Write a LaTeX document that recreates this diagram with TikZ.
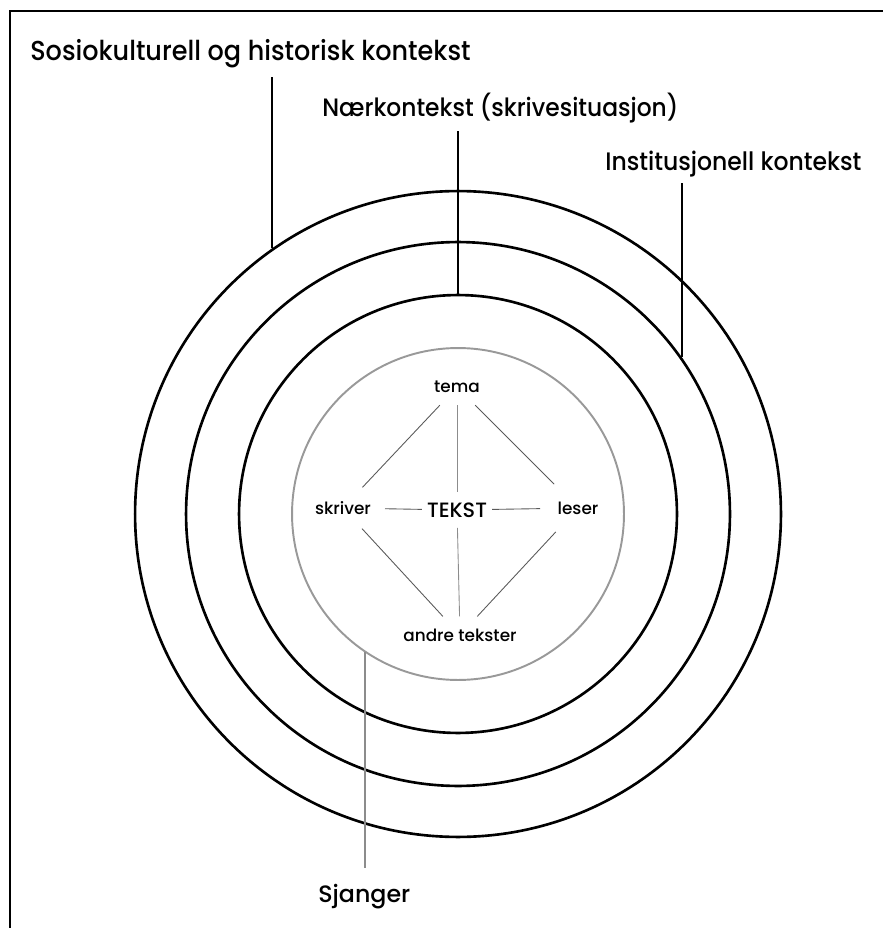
\documentclass[tikz,border=0pt]{standalone}
\usepackage{fontspec}
\setmainfont{Poppins}[UprightFont=* Medium]
\newfontfamily\ctxfont{Poppins}[UprightFont=* Medium, FakeStretch=0.93]
\tikzset{
  ring/.style={circle, draw, line width=1.5pt, inner sep=0pt},
  genrering/.style={circle, draw=black!40, line width=1.1pt, inner sep=0pt},
  ctxlabel/.style={anchor=base west, inner sep=0pt, font=\ctxfont\fontsize{14.4}{17}\selectfont},
  hub/.style={inner sep=0pt, outer sep=7pt, font=\fontsize{9.6}{11}\selectfont},
  link/.style={draw=black!65, line width=0.5pt},
  pointer/.style={draw, line width=1.3pt}
}
\begin{document}
\begin{tikzpicture}[x=0.02cm, y=-0.02cm]
  \useasboundingbox (0,0) rectangle (883,928);
  \draw[line width=1.5pt] (10,928) -- (10,11) -- (883,11);
  % the rings
  \node[ring, minimum size=12.92cm] (outer) at (458,514) {};
  \node[ring, minimum size=10.88cm] (middle) at (458,514) {};
  \node[ring, minimum size=8.76cm] (inner) at (458,514) {};
  \node[genrering, minimum size=6.64cm] (genre) at (458,514) {};
  % context labels
  \node[ctxlabel, font=\ctxfont\fontsize{15.6}{18}\selectfont] (sosio) at (30,61) {Sosiokulturell og historisk kontekst};
  \node[ctxlabel, font=\ctxfont\fontsize{14.3}{17}\selectfont] (naer) at (322,117) {Nærkontekst (skrivesituasjon)};
  \node[ctxlabel] (inst) at (605,171) {Institusjonell kontekst};
  \node[anchor=base west, inner sep=0pt, font=\fontsize{13.5}{16}\selectfont] (sjanger) at (318,902) {Sjanger};
  \coordinate (sosio-top) at (273,77);
  \coordinate (naer-top) at (458,131);
  \coordinate (inst-top) at (681,183);
  \coordinate (sjanger-end) at (366,868);
  \draw[pointer] (outer.125) -- (outer.125 |- sosio-top);
  \draw[pointer] (inner.90) -- (inner.90 |- naer-top);
  \draw[pointer] (middle.35) -- (middle.35 |- inst-top);
  \draw[pointer, draw=black!45] (genre.236) -- (genre.236 |- sjanger-end);
  % the text and its relations
  \node[hub] (tema) at (457,387) {tema};
  \node[hub, outer sep=8pt] (skriver) at (343,508) {skriver};
  \node[hub, outer xsep=3pt, outer ysep=6pt, font=\fontsize{11.8}{13}\selectfont] (tekst) at (457,510) {TEKST};
  \node[hub, outer sep=10pt] (leser) at (578,508) {leser};
  \node[hub] (andre) at (460,635) {andre tekster};
  \draw[link] (tema) -- (skriver);
  \draw[link] (tema) -- (leser);
  \draw[link, draw=black!45] (tema) -- (tekst);
  \draw[link] (tekst) -- (skriver);
  \draw[link] (tekst) -- (leser);
  \draw[link, draw=black!45] (tekst) -- (andre);
  \draw[link] (skriver) -- (andre);
  \draw[link] (leser) -- (andre);
\end{tikzpicture}
\end{document}
